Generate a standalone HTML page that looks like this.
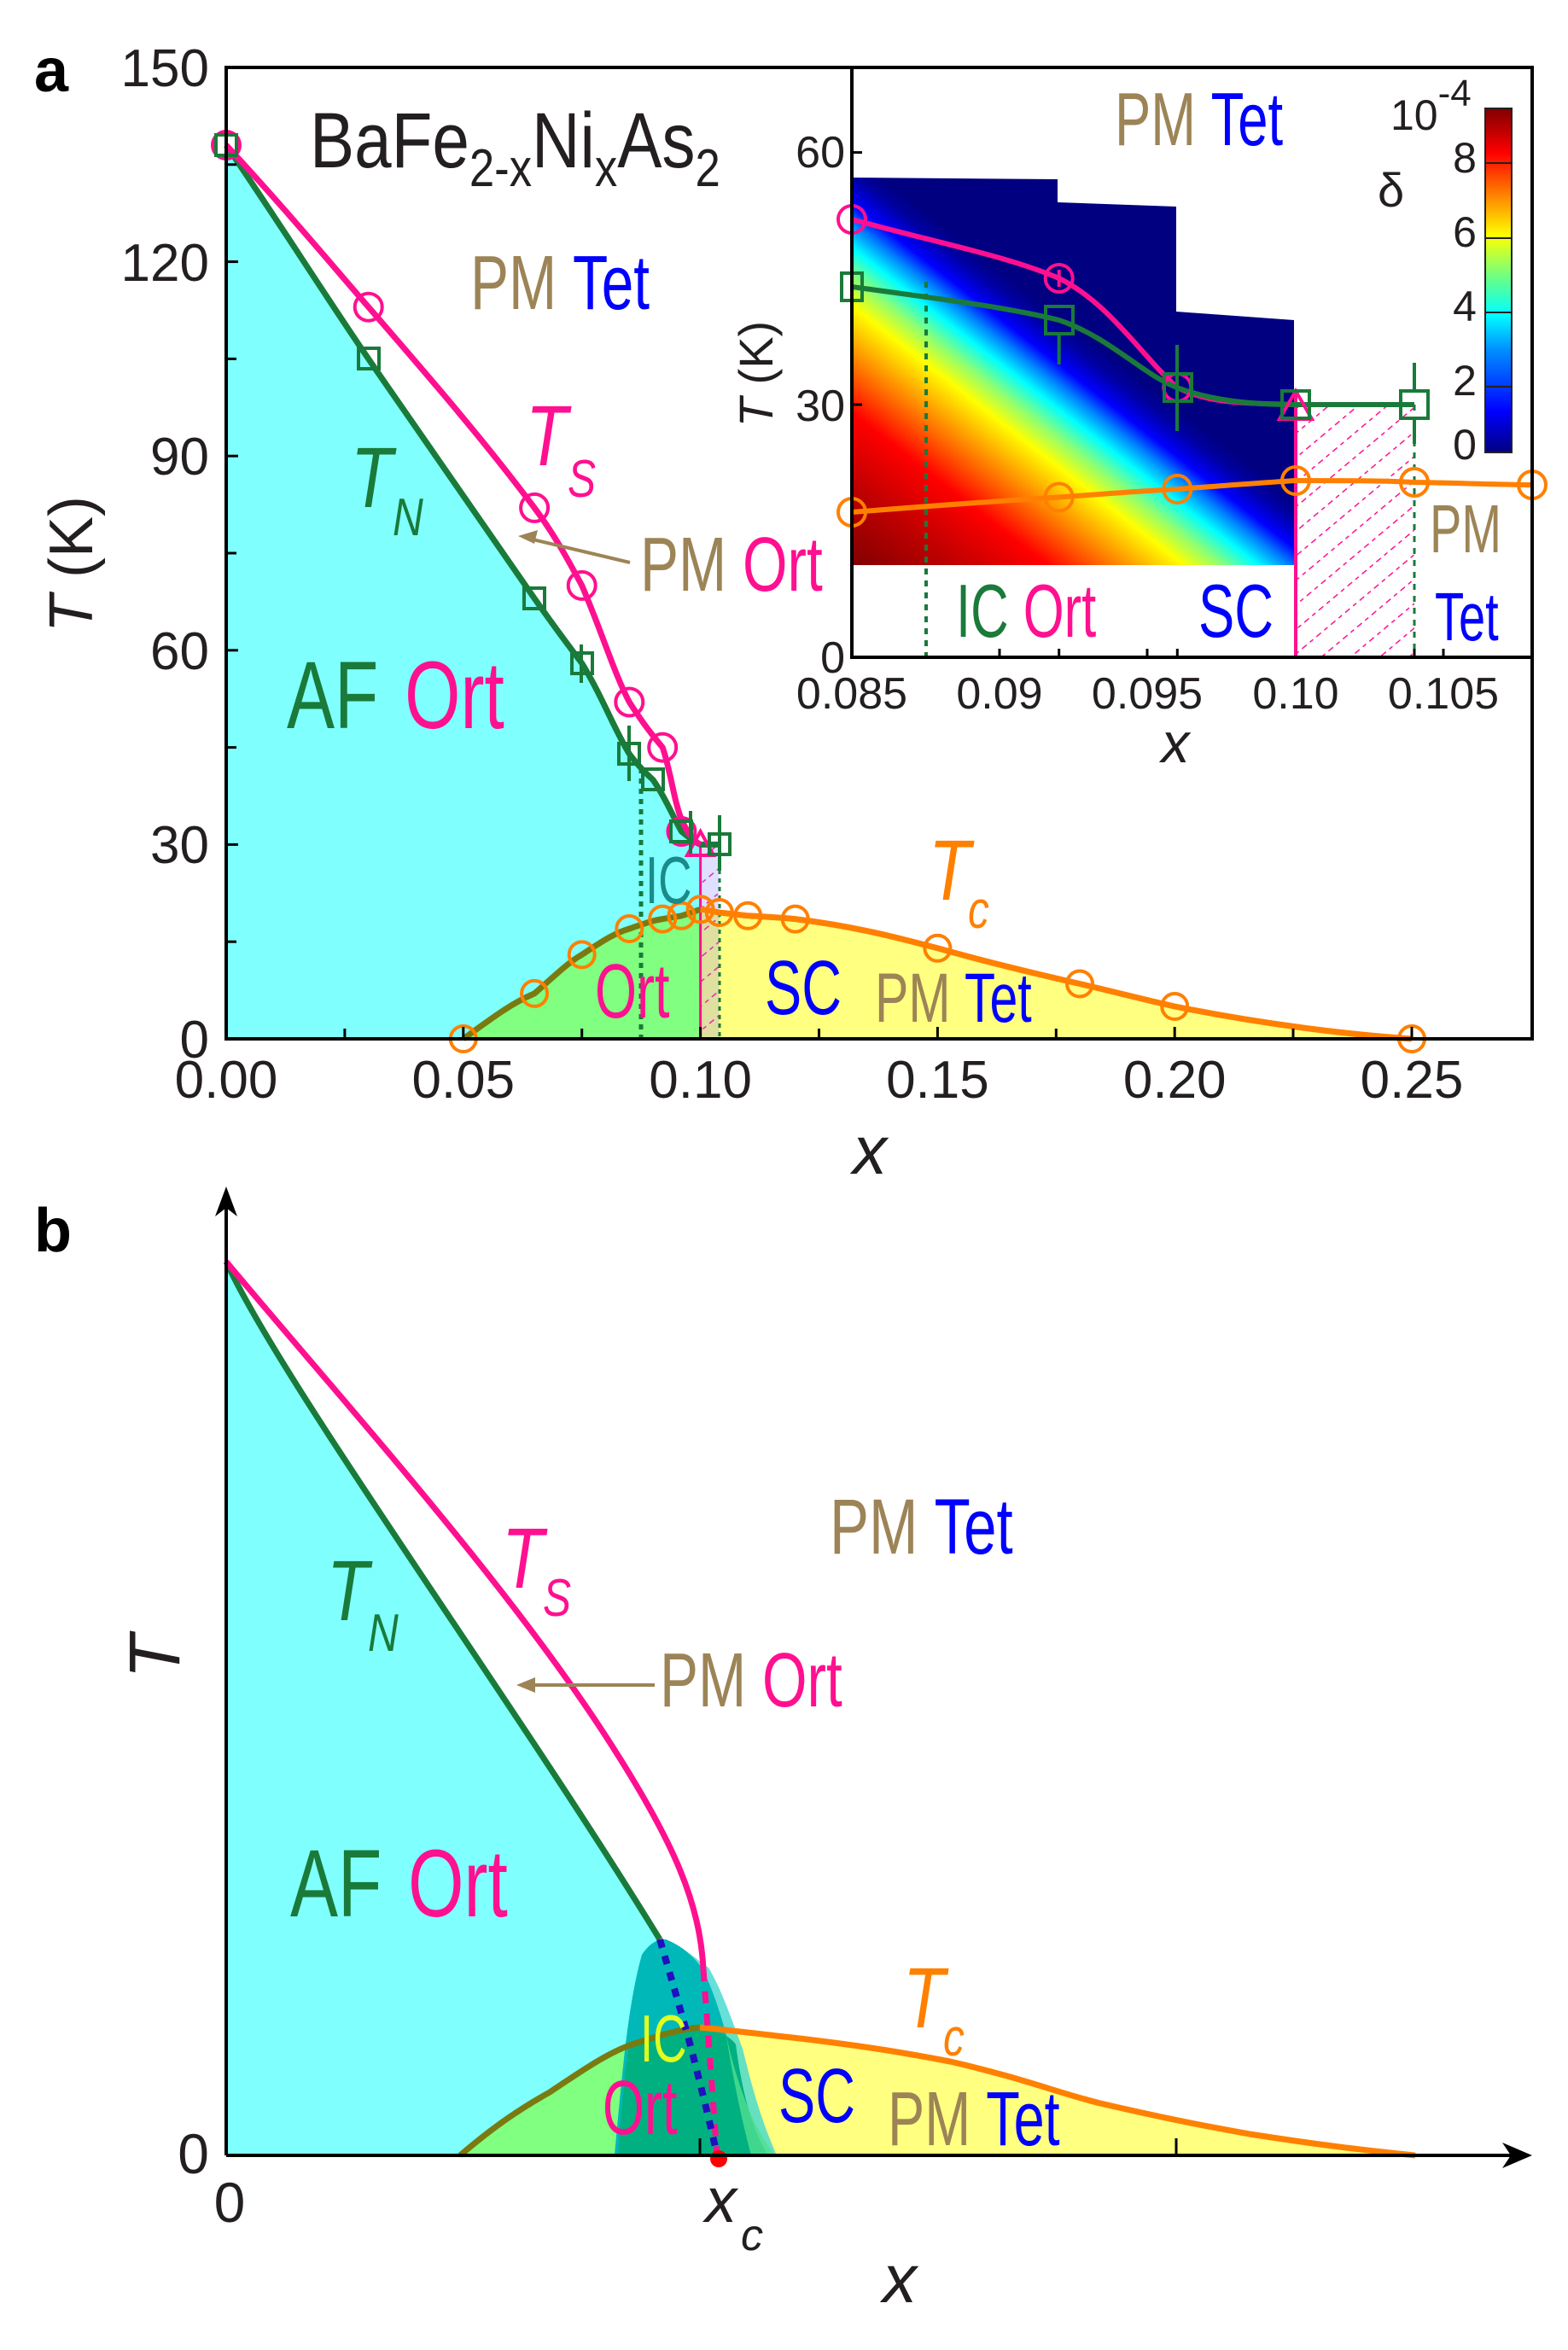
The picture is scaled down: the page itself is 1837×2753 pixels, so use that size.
<!DOCTYPE html>
<html><head><meta charset="utf-8"><style>
html,body{margin:0;padding:0;background:#fff}
svg{display:block}
text{font-family:"Liberation Sans",sans-serif}
</style></head><body>
<svg width="1837" height="2753" viewBox="0 0 1837 2753" xmlns="http://www.w3.org/2000/svg">
<defs>
<linearGradient id="hm" gradientUnits="userSpaceOnUse" x1="998" y1="662" x2="1232" y2="362">
<stop offset="0" stop-color="#800000"/>
<stop offset="0.2" stop-color="#c00000"/>
<stop offset="0.37" stop-color="#ff0000"/>
<stop offset="0.5" stop-color="#ff8000"/>
<stop offset="0.63" stop-color="#ffff00"/>
<stop offset="0.7" stop-color="#90ff70"/>
<stop offset="0.77" stop-color="#00ffff"/>
<stop offset="0.83" stop-color="#0080ff"/>
<stop offset="0.88" stop-color="#0000ff"/>
<stop offset="0.95" stop-color="#0000a0"/>
<stop offset="1" stop-color="#000080"/>
</linearGradient>
<linearGradient id="cb" x1="0" y1="1" x2="0" y2="0">
<stop offset="0" stop-color="#000080"/>
<stop offset="0.12" stop-color="#0000ff"/>
<stop offset="0.3" stop-color="#0090ff"/>
<stop offset="0.4" stop-color="#00ffff"/>
<stop offset="0.5" stop-color="#60ff90"/>
<stop offset="0.63" stop-color="#ffff00"/>
<stop offset="0.75" stop-color="#ff8000"/>
<stop offset="0.87" stop-color="#ff0000"/>
<stop offset="1" stop-color="#800000"/>
</linearGradient>
<pattern id="hatch" width="22" height="22" patternUnits="userSpaceOnUse" patternTransform="rotate(-40)">
<line x1="0" y1="0" x2="22" y2="0" stroke="#ff1090" stroke-width="3" stroke-dasharray="5,5"/>
</pattern>
<clipPath id="hmclip"><path d="M998,208 L1239,210 L1239,237 L1378,242 L1378,365 L1516,375 L1516,662 L998,662 Z"/></clipPath>
</defs>

<!-- ================= PANEL A ================= -->
<text x="40" y="107" font-size="72" font-weight="bold">a</text>

<path d="M265,170 C330,265 380,345 431.7,420.4 C500,520 570,620 626.1,701 C650,735 665,755 681.7,777 C705,815 720,855 737.3,883.2 C750,900 758,907 765,913.5 C780,935 790,960 798.4,974 C808,982 815,987 820.6,989.4 L820.6,1217 L265,1217 Z" fill="#80ffff"/>
<path d="M542.8,1217 C580,1190 600,1175 626.1,1163.9 C650,1143 665,1128 681.7,1118.4 C705,1103 720,1093 737.3,1088 C755,1082 765,1078 776.2,1076.6 C785,1075 792,1074 798.4,1072.8 C808,1070 815,1067 820.6,1065.3 L820.6,1217 Z" fill="#80ff80"/>
<path d="M820.6,1065.3 C830,1066 836,1068 842.8,1069 C860,1071 870,1072 876.2,1072.8 C900,1074 915,1075 931.7,1076.6 C1000,1085 1050,1098 1098.4,1110.8 C1160,1128 1210,1140 1265,1152.5 C1310,1163 1340,1171 1376.2,1179 C1480,1200 1580,1212 1654,1217 L820.6,1217 Z" fill="#ffff80"/>
<rect x="820.6" y="989" width="22" height="228" fill="url(#hatch)"/>
<rect x="820.6" y="989" width="22" height="228" fill="#8080ff" opacity="0.25"/>
<line x1="820.6" y1="989" x2="820.6" y2="1217" stroke="#ff1090" stroke-width="3"/>

<line x1="751" y1="900" x2="751" y2="1217" stroke="#1a7a3a" stroke-width="5" stroke-dasharray="6,6"/>
<line x1="843" y1="989" x2="843" y2="1217" stroke="#1a7a3a" stroke-width="3" stroke-dasharray="5,5"/>

<path d="M265,170 C330,265 380,345 431.7,420.4 C500,520 570,620 626.1,701 C650,735 665,755 681.7,777 C705,815 720,855 737.3,883.2 C750,900 758,907 765,913.5 C780,935 790,960 798.4,974 C808,982 815,987 820.6,989.4 L843,989.4" fill="none" stroke="#1a7a3a" stroke-width="7"/>
<path d="M265,170 C330,240 380,300 431.7,359.7 C510,450 570,520 626.1,594.9 C650,627 665,655 681.7,685.9 C705,740 720,790 737.3,822.5 C755,850 765,862 776.2,875.6 C785,900 790,940 798.4,960 C805,975 812,985 820.6,989.4" fill="none" stroke="#ff1090" stroke-width="7"/>
<path d="M542.8,1217 C580,1190 600,1175 626.1,1163.9 C650,1143 665,1128 681.7,1118.4 C705,1103 720,1093 737.3,1088 C755,1082 765,1078 776.2,1076.6 C785,1075 792,1074 798.4,1072.8 C808,1070 815,1067 820.6,1065.3" fill="none" stroke="#7a7a10" stroke-width="7"/>
<path d="M820.6,1065.3 C830,1066 836,1068 842.8,1069 C860,1071 870,1072 876.2,1072.8 C900,1074 915,1075 931.7,1076.6 C1000,1085 1050,1098 1098.4,1110.8 C1160,1128 1210,1140 1265,1152.5 C1310,1163 1340,1171 1376.2,1179 C1480,1200 1580,1212 1654,1217" fill="none" stroke="#ff8000" stroke-width="7"/>

<g fill="none" stroke="#ff1090" stroke-width="4">
<circle cx="265" cy="170" r="16"/><circle cx="431.7" cy="359.7" r="16"/><circle cx="626.1" cy="594.9" r="16"/><circle cx="681.7" cy="685.9" r="16"/><circle cx="737.3" cy="822.5" r="16"/><circle cx="776.2" cy="875.6" r="16"/><circle cx="798.4" cy="974" r="16"/>
<path d="M820.6,974 L836,1002 L805,1002 Z"/>
</g>
<g fill="none" stroke="#1a7a3a" stroke-width="4">
<rect x="253" y="158" width="24" height="24"/><rect x="420" y="408" width="24" height="24"/><rect x="614" y="689" width="24" height="24"/><rect x="670" y="765" width="24" height="24"/><rect x="725" y="871" width="24" height="24"/><rect x="753" y="901" width="24" height="24"/><rect x="786" y="962" width="24" height="24"/><rect x="831" y="977" width="24" height="24"/>
<line x1="737" y1="850" x2="737" y2="915"/><line x1="843" y1="955" x2="843" y2="1020"/><line x1="681" y1="755" x2="681" y2="800"/><line x1="809" y1="950" x2="809" y2="1000"/>
</g>
<g fill="none" stroke="#ff8000" stroke-width="4">
<circle cx="542.8" cy="1217" r="15"/><circle cx="626.1" cy="1163.9" r="15"/><circle cx="681.7" cy="1118.4" r="15"/><circle cx="737.3" cy="1088" r="15"/><circle cx="776.2" cy="1076.6" r="15"/><circle cx="798.4" cy="1072.8" r="15"/><circle cx="820.6" cy="1065.3" r="15"/><circle cx="842.8" cy="1069" r="15"/><circle cx="876.2" cy="1072.8" r="15"/><circle cx="931.7" cy="1076.6" r="15"/><circle cx="1098.4" cy="1110.8" r="15"/><circle cx="1265" cy="1152.5" r="15"/><circle cx="1376.2" cy="1179" r="15"/><circle cx="1654" cy="1217" r="15"/>
</g>

<rect x="265" y="79" width="1530" height="1138" fill="none" stroke="#000" stroke-width="4"/>
<g stroke="#000" stroke-width="3">
<line x1="403.9" y1="1217" x2="403.9" y2="1205"/><line x1="542.8" y1="1217" x2="542.8" y2="1203"/><line x1="681.7" y1="1217" x2="681.7" y2="1205"/><line x1="820.6" y1="1217" x2="820.6" y2="1203"/><line x1="959.5" y1="1217" x2="959.5" y2="1205"/><line x1="1098.4" y1="1217" x2="1098.4" y2="1203"/><line x1="1237.3" y1="1217" x2="1237.3" y2="1205"/><line x1="1376.2" y1="1217" x2="1376.2" y2="1203"/><line x1="1515" y1="1217" x2="1515" y2="1205"/><line x1="1654" y1="1217" x2="1654" y2="1203"/>
<line x1="265" y1="1103.2" x2="277" y2="1103.2"/><line x1="265" y1="989.4" x2="279" y2="989.4"/><line x1="265" y1="875.6" x2="277" y2="875.6"/><line x1="265" y1="761.8" x2="279" y2="761.8"/><line x1="265" y1="648" x2="277" y2="648"/><line x1="265" y1="534.2" x2="279" y2="534.2"/><line x1="265" y1="420.4" x2="277" y2="420.4"/><line x1="265" y1="306.6" x2="279" y2="306.6"/><line x1="265" y1="192.8" x2="277" y2="192.8"/>
</g>
<g font-size="62" text-anchor="end" fill="#231f20">
<text x="245" y="101">150</text><text x="245" y="329">120</text><text x="245" y="556">90</text><text x="245" y="784">60</text><text x="245" y="1011">30</text><text x="245" y="1239">0</text>
</g>
<g font-size="62" text-anchor="middle" fill="#231f20">
<text x="265" y="1286">0.00</text><text x="542.8" y="1286">0.05</text><text x="820.6" y="1286">0.10</text><text x="1098.4" y="1286">0.15</text><text x="1376.2" y="1286">0.20</text><text x="1654" y="1286">0.25</text>
</g>
<text x="1019" y="1375" font-size="80" font-style="italic" text-anchor="middle" fill="#231f20">x</text>
<text transform="translate(108,661) rotate(-90)" font-size="72" text-anchor="middle" fill="#231f20"><tspan font-style="italic">T</tspan> (K)</text>

<text transform="translate(363,196) scale(0.85,1)" font-size="92" fill="#231f20">BaFe<tspan font-size="62" dy="22">2-x</tspan><tspan dy="-22">Ni</tspan><tspan font-size="62" dy="22">x</tspan><tspan dy="-22">As</tspan><tspan font-size="62" dy="22">2</tspan></text>
<text transform="translate(551,362) scale(0.75,1)" font-size="90"><tspan fill="#9c8456">PM </tspan><tspan fill="#0000ff">Tet</tspan></text>
<text transform="translate(616,545) scale(0.8,1)" font-size="100" font-style="italic" fill="#ff1090">T</text>
<text transform="translate(665,582) scale(0.8,1)" font-size="62" font-style="italic" fill="#ff1090">S</text>
<text transform="translate(411,594) scale(0.8,1)" font-size="100" font-style="italic" fill="#1a7a3a">T</text>
<text transform="translate(460,627) scale(0.8,1)" font-size="62" font-style="italic" fill="#1a7a3a">N</text>
<line x1="738" y1="659" x2="620" y2="631" stroke="#9c8456" stroke-width="4"/>
<path d="M607,628 L630,621 L626,637 Z" fill="#9c8456"/>
<text transform="translate(750,692) scale(0.75,1)" font-size="90"><tspan fill="#9c8456">PM </tspan><tspan fill="#ff1090">Ort</tspan></text>
<text transform="translate(336,853) scale(0.75,1)" font-size="112"><tspan fill="#1a7a3a">AF </tspan><tspan fill="#ff1090" dx="10">Ort</tspan></text>
<text transform="translate(756,1058) scale(0.7,1)" font-size="78" fill="#1a8a8a">IC</text>
<text transform="translate(697,1192) scale(0.7,1)" font-size="90" fill="#ff1090">Ort</text>
<text transform="translate(896,1188) scale(0.72,1)" font-size="90" fill="#0000ff">SC</text>
<text transform="translate(1025,1197) scale(0.72,1)" font-size="82"><tspan fill="#9c8456">PM </tspan><tspan fill="#0000ff">Tet</tspan></text>
<text transform="translate(1088,1054) scale(0.8,1)" font-size="100" font-style="italic" fill="#ff8000">T</text>
<text transform="translate(1134,1087) scale(0.8,1)" font-size="62" font-style="italic" fill="#ff8000">c</text>

<!-- ================= INSET ================= -->
<rect x="998" y="79" width="797" height="691" fill="#fff"/>
<g clip-path="url(#hmclip)"><rect x="998" y="200" width="530" height="470" fill="url(#hm)"/></g>
<rect x="1518" y="474" width="139" height="296" fill="url(#hatch)"/>
<line x1="1518" y1="460" x2="1518" y2="770" stroke="#ff1090" stroke-width="4"/>
<line x1="1085" y1="330" x2="1085" y2="770" stroke="#1a7a3a" stroke-width="4" stroke-dasharray="7,7"/>
<line x1="1657" y1="474" x2="1657" y2="770" stroke="#1a7a3a" stroke-width="3" stroke-dasharray="7,7"/>
<path d="M998,257 C1100,285 1180,300 1240.7,326 C1300,355 1340,420 1379.3,454 C1420,475 1470,472 1518,474" fill="none" stroke="#ff1090" stroke-width="6"/>
<path d="M998,336 C1100,350 1180,360 1240.7,375 C1300,395 1340,440 1379.3,454 C1420,470 1470,474 1518,474 L1657,474" fill="none" stroke="#1a7a3a" stroke-width="6"/>
<path d="M998,600 C1100,592 1180,586 1240.7,582.5 C1300,578 1340,575 1379.3,573 C1420,570 1470,566 1518,563 C1580,563 1620,563 1657,565 C1720,566 1760,568 1795,568" fill="none" stroke="#ff8000" stroke-width="6"/>
<g fill="none" stroke="#ff1090" stroke-width="4">
<circle cx="998" cy="257" r="16"/><circle cx="1240.7" cy="326" r="16"/><circle cx="1379.3" cy="454" r="16"/><path d="M1518,458 L1537,491 L1499,491 Z"/>
<line x1="1240.7" y1="316" x2="1240.7" y2="336"/><line x1="1379" y1="444" x2="1379" y2="464"/>
</g>
<g fill="none" stroke="#1a7a3a" stroke-width="4">
<rect x="986" y="320" width="24" height="32"/><rect x="1225" y="359" width="32" height="32"/><rect x="1364" y="438" width="32" height="32"/><rect x="1502" y="458" width="32" height="32"/><rect x="1641" y="458" width="32" height="32"/>
<line x1="1240.7" y1="391" x2="1240.7" y2="427"/><line x1="1379" y1="404" x2="1379" y2="505"/><line x1="1657" y1="425" x2="1657" y2="458"/><line x1="1657" y1="490" x2="1657" y2="520"/>
</g>
<g fill="none" stroke="#ff8000" stroke-width="4">
<circle cx="998" cy="600" r="16"/><circle cx="1240.7" cy="582.5" r="16"/><circle cx="1379.3" cy="573" r="16"/><circle cx="1518" cy="563" r="16"/><circle cx="1657" cy="565" r="16"/><circle cx="1795" cy="568" r="16"/>
</g>
<rect x="998" y="79" width="797" height="691" fill="none" stroke="#000" stroke-width="4"/>
<g stroke="#000" stroke-width="3">
<line x1="1171" y1="770" x2="1171" y2="760"/><line x1="1344" y1="770" x2="1344" y2="760"/><line x1="1691" y1="770" x2="1691" y2="760"/><line x1="1240.7" y1="770" x2="1240.7" y2="760"/><line x1="1379.3" y1="770" x2="1379.3" y2="760"/><line x1="1657" y1="770" x2="1657" y2="760"/>
<line x1="998" y1="474" x2="1010" y2="474"/><line x1="998" y1="178.6" x2="1010" y2="178.6"/>
</g>
<g font-size="52" text-anchor="end" fill="#231f20">
<text x="990" y="196">60</text><text x="990" y="493">30</text><text x="990" y="788">0</text>
</g>
<g font-size="52" text-anchor="middle" fill="#231f20">
<text x="998" y="830">0.085</text><text x="1171" y="830">0.09</text><text x="1344" y="830">0.095</text><text x="1518" y="830">0.10</text><text x="1691" y="830">0.105</text>
</g>
<text x="1377" y="893" font-size="66" font-style="italic" text-anchor="middle" fill="#231f20">x</text>
<text transform="translate(905,438) rotate(-90)" font-size="56" text-anchor="middle" fill="#231f20"><tspan font-style="italic">T</tspan> (K)</text>
<text transform="translate(1306,170) scale(0.72,1)" font-size="88"><tspan fill="#9c8456">PM </tspan><tspan fill="#0000ff">Tet</tspan></text>
<text transform="translate(1120,746) scale(0.7,1)" font-size="88"><tspan fill="#1a7a3a">IC </tspan><tspan fill="#ff1090">Ort</tspan></text>
<text transform="translate(1404,746) scale(0.72,1)" font-size="88" fill="#0000ff">SC</text>
<text transform="translate(1675,647) scale(0.7,1)" font-size="80" fill="#9c8456">PM</text>
<text transform="translate(1681,750) scale(0.7,1)" font-size="80" fill="#0000ff">Tet</text>
<rect x="1740" y="127" width="31" height="403" fill="url(#cb)" stroke="#222" stroke-width="2"/>
<g stroke="#222" stroke-width="2"><line x1="1740" y1="191" x2="1771" y2="191"/><line x1="1740" y1="279" x2="1771" y2="279"/><line x1="1740" y1="366" x2="1771" y2="366"/><line x1="1740" y1="453" x2="1771" y2="453"/></g>
<g font-size="50" text-anchor="middle" fill="#231f20">
<text x="1716" y="202">8</text><text x="1716" y="289">6</text><text x="1716" y="376">4</text><text x="1716" y="463">2</text><text x="1716" y="538">0</text>
</g>
<text x="1629" y="152" font-size="50" fill="#231f20">10<tspan font-size="44" dy="-28">-4</tspan></text>
<text x="1614" y="242" font-size="56" fill="#231f20">δ</text>

<!-- ================= PANEL B ================= -->
<text x="40" y="1466" font-size="72" font-weight="bold">b</text>
<path d="M265,1478 C330,1620 600,1990 773,2272 L720,2525 L265,2525 Z" fill="#80ffff"/>
<path d="M539,2525 C580,2490 610,2470 644,2451 C690,2420 720,2400 750,2392 C780,2382 800,2377 820,2375 L820,2525 Z" fill="#80ff80"/>
<path d="M820,2375 C870,2380 900,2384 937,2388 C1020,2398 1060,2405 1113,2415 C1200,2435 1240,2452 1289,2464 C1380,2485 1420,2492 1464,2500 C1560,2515 1610,2520 1658,2525 L820,2525 Z" fill="#ffff80"/>
<path d="M720,2525 C728,2440 735,2350 752,2290 C760,2278 768,2272 780,2272 C800,2280 815,2295 830,2305 C845,2330 855,2360 870,2400 C880,2440 890,2480 910,2525 Z" fill="#40d8d0" opacity="0.8"/>
<path d="M720,2525 C728,2440 735,2350 752,2290 C760,2278 768,2272 780,2272 C800,2280 812,2292 822,2305 C835,2330 845,2360 855,2400 C865,2440 875,2480 892,2525 Z" fill="#00b8b8"/>
<path d="M724,2525 C728,2470 732,2420 738,2395 C760,2385 800,2377 820,2375 C840,2378 855,2385 862,2395 C868,2440 878,2490 900,2525 Z" fill="#00b080"/>
<path d="M850,2380 C860,2430 880,2490 908,2525 L880,2525 C868,2480 858,2430 850,2380 Z" fill="#50e090" opacity="0.8"/>
<path d="M539,2525 C580,2490 610,2470 644,2451 C690,2420 720,2400 750,2392 C780,2382 800,2377 820,2375" fill="none" stroke="#7a7a10" stroke-width="7"/>
<path d="M820,2375 C870,2380 900,2384 937,2388 C1020,2398 1060,2405 1113,2415 C1200,2435 1240,2452 1289,2464 C1380,2485 1420,2492 1464,2500 C1560,2515 1610,2520 1658,2525" fill="none" stroke="#ff8000" stroke-width="7"/>
<path d="M265,1478 C330,1620 600,1990 773,2272" fill="none" stroke="#1a7a3a" stroke-width="7"/>
<path d="M265,1478 C400,1640 600,1860 720,2050 C790,2160 820,2230 824,2307" fill="none" stroke="#ff1090" stroke-width="7"/>
<path d="M824,2307 L840,2525" fill="none" stroke="#ff1090" stroke-width="7" stroke-dasharray="14,12"/>
<path d="M773,2272 C790,2330 805,2380 815,2420 C825,2460 835,2500 840,2525" fill="none" stroke="#2010c0" stroke-width="8" stroke-dasharray="10,10"/>
<circle cx="842" cy="2529" r="10" fill="#ff0000"/>
<line x1="265" y1="2525" x2="1780" y2="2525" stroke="#000" stroke-width="4"/>
<path d="M1795,2525 L1760,2510 L1770,2525 L1760,2540 Z" fill="#000"/>
<line x1="265" y1="2525" x2="265" y2="1405" stroke="#000" stroke-width="4"/>
<path d="M265,1390 L252,1425 L265,1415 L278,1425 Z" fill="#000"/>
<line x1="820" y1="2525" x2="820" y2="2505" stroke="#000" stroke-width="3"/>
<line x1="1378" y1="2525" x2="1378" y2="2505" stroke="#000" stroke-width="3"/>
<text x="245" y="2546" font-size="66" text-anchor="end" fill="#231f20">0</text>
<text x="269" y="2603" font-size="66" text-anchor="middle" fill="#231f20">0</text>
<text x="826" y="2603" font-size="74" font-style="italic" fill="#231f20">x</text>
<text x="868" y="2636" font-size="52" font-style="italic" fill="#231f20">c</text>
<text x="1054" y="2697" font-size="80" font-style="italic" text-anchor="middle" fill="#231f20">x</text>
<text transform="translate(210,1941) rotate(-90)" font-size="84" font-style="italic" text-anchor="middle" fill="#231f20">T</text>
<text transform="translate(972,1820) scale(0.75,1)" font-size="92"><tspan fill="#9c8456">PM </tspan><tspan fill="#0000ff">Tet</tspan></text>
<text transform="translate(588,1860) scale(0.8,1)" font-size="100" font-style="italic" fill="#ff1090">T</text>
<text transform="translate(636,1893) scale(0.8,1)" font-size="62" font-style="italic" fill="#ff1090">S</text>
<text transform="translate(383,1898) scale(0.8,1)" font-size="100" font-style="italic" fill="#1a7a3a">T</text>
<text transform="translate(431,1934) scale(0.8,1)" font-size="62" font-style="italic" fill="#1a7a3a">N</text>
<line x1="767" y1="1974" x2="620" y2="1974" stroke="#9c8456" stroke-width="4"/>
<path d="M605,1974 L627,1965 L627,1983 Z" fill="#9c8456"/>
<text transform="translate(773,1999) scale(0.75,1)" font-size="90"><tspan fill="#9c8456">PM </tspan><tspan fill="#ff1090">Ort</tspan></text>
<text transform="translate(340,2245) scale(0.75,1)" font-size="112"><tspan fill="#1a7a3a">AF </tspan><tspan fill="#ff1090" dx="10">Ort</tspan></text>
<text transform="translate(750,2415) scale(0.7,1)" font-size="78" fill="#e0ff20">IC</text>
<text transform="translate(706,2500) scale(0.7,1)" font-size="90" fill="#ff1090">Ort</text>
<text transform="translate(912,2486) scale(0.72,1)" font-size="90" fill="#0000ff">SC</text>
<text transform="translate(1040,2513) scale(0.72,1)" font-size="90"><tspan fill="#9c8456">PM </tspan><tspan fill="#0000ff">Tet</tspan></text>
<text transform="translate(1058,2375) scale(0.8,1)" font-size="100" font-style="italic" fill="#ff8000">T</text>
<text transform="translate(1105,2408) scale(0.8,1)" font-size="62" font-style="italic" fill="#ff8000">c</text>
</svg>
</body></html>
